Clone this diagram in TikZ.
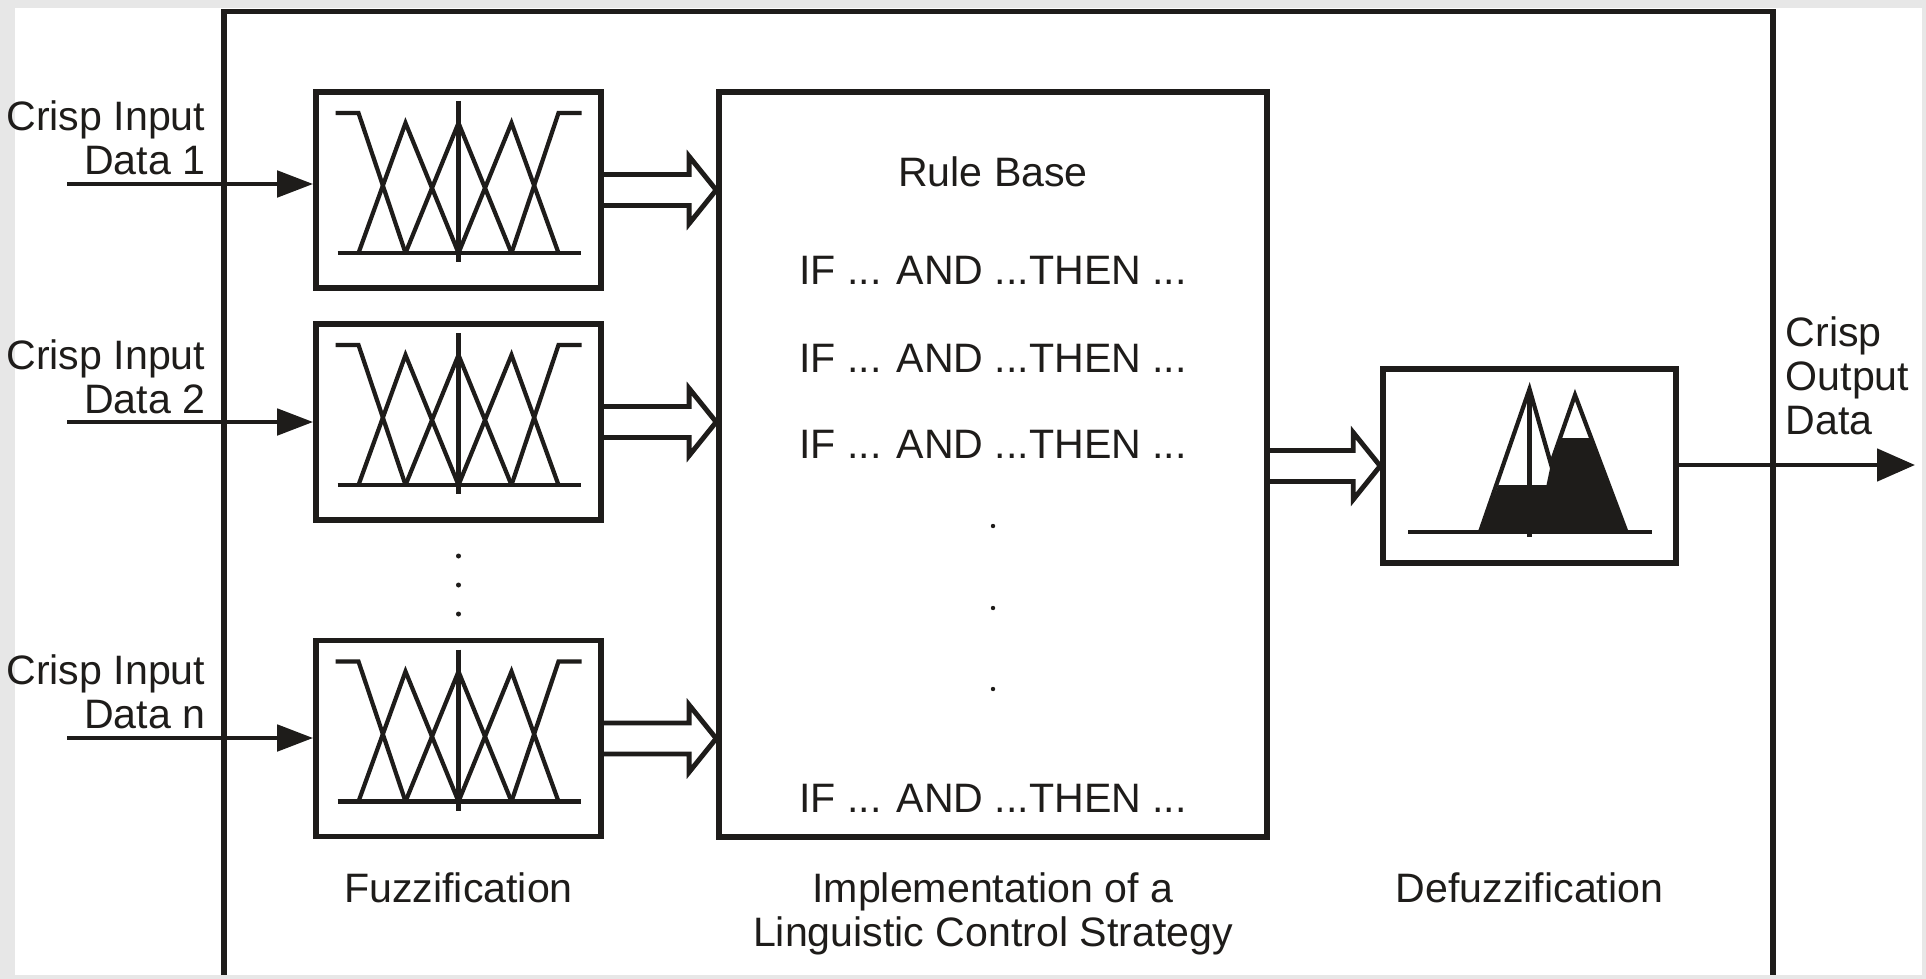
\documentclass[tikz,border=0pt]{standalone}
\usepackage{fontspec}
\setmainfont{Liberation Sans}
\usepackage{xcolor}
\usetikzlibrary{arrows.meta, positioning, calc}

\definecolor{ink}{RGB}{30,28,26}
\definecolor{bggray}{RGB}{231,231,231}

% hollow block arrow from #1 to the tip #2
\newcommand{\fatarrow}[2]{%
  \draw[fat arrow] ($(#1)+(0,0.155)$) -- ($(#2)+(-0.27,0.155)$) -- ++(0,0.18) -- (#2)
    -- ($(#2)+(-0.27,-0.335)$) -- ++(0,0.18) -- ($(#1)+(0,-0.155)$);}

% membership functions inside a fuzzification box
\newcommand{\mfsets}[1]{%
  \begin{scope}[shift={(#1)}]
    \draw[curve] (-1.21,-0.63) -- (1.22,-0.63);
    \draw[curve] (-1.23,0.77) -- (-1.0,0.77) -- (-0.53,-0.63);
    \draw[curve] (1.23,0.77) -- (1.0,0.77) -- (0.53,-0.63);
    \draw[curve] (-1.0,-0.63) -- (-0.53,0.67) -- (0,-0.63);
    \draw[curve] (-0.53,-0.63) -- (0,0.67) -- (0.53,-0.63);
    \draw[curve] (0,-0.63) -- (0.53,0.67) -- (1.0,-0.63);
    \draw[curve] (0,0.89) -- (0,-0.72);
  \end{scope}}

\begin{document}
\begin{tikzpicture}[
    >=Stealth,
    fuzzbox/.style={draw=ink, line width=1.6pt, minimum width=2.85cm, minimum height=1.96cm, inner sep=0pt},
    rulebox/.style={fuzzbox, minimum width=5.48cm, minimum height=7.45cm},
    defbox/.style={fuzzbox, minimum width=2.93cm, minimum height=1.94cm},
    frame/.style={draw=ink, line width=1.6pt},
    curve/.style={draw=ink, line width=1.2pt, line join=miter},
    in arrow/.style={draw=ink, line width=1.4pt, -{Triangle[length=0.36cm, width=0.26cm]}},
    out arrow/.style={draw=ink, line width=1.4pt, -{Triangle[length=0.38cm, width=0.32cm]}},
    fat arrow/.style={draw=ink, line width=1.4pt, line join=miter},
    txt/.style={font=\fontsize{11.7}{12.6}\selectfont, text=ink, inner sep=0pt}
]
    \useasboundingbox (0,0) rectangle (19.26,-9.79);

    % ==================== BACKGROUND ====================
    \fill[bggray] (0,0) rectangle (19.26,-9.79);
    \fill[white] (0.15,-0.08) rectangle (19.215,-9.75);
    \draw[frame] (2.24,-9.75) -- (2.24,-0.115) -- (17.73,-0.115) -- (17.73,-9.75);

    % ==================== BLOCKS ====================
    \node[fuzzbox] (f1) at (4.585,-1.90) {};
    \node[fuzzbox] (f2) at (4.585,-4.22) {};
    \node[fuzzbox] (fn) at (4.585,-7.385) {};
    \node[rulebox] (rules) at (9.93,-4.645) {};
    \node[defbox] (defuzz) at (15.295,-4.66) {};

    \mfsets{f1.center}
    \mfsets{f2.center}
    \mfsets{fn.center}

    % dots between the fuzzification blocks
    \foreach \yy in {5.56,5.85,6.14}
        \fill[ink] (f2.south |- 0,-\yy) circle (0.025);

    % ==================== INPUTS ====================
    \coordinate (s1) at (0.67,-1.84);
    \coordinate (s2) at (0.67,-4.22);
    \coordinate (sn) at (0.67,-7.38);
    \draw[in arrow] (s1) -- (s1 -| f1.west);
    \draw[in arrow] (s2) -- (s2 -| f2.west);
    \draw[in arrow] (sn) -- (sn -| fn.west);
    \node[txt, align=right, anchor=south east] (l1) at (2.06,-1.76) {Crisp Input\\Data 1};
    \node[txt, align=right, anchor=south east] (l2) at (2.06,-4.15) {Crisp Input\\Data 2};
    \node[txt, align=right, anchor=south east] (ln) at (2.06,-7.30) {Crisp Input\\Data n};

    % ==================== BLOCK ARROWS ====================
    \coordinate (t1) at (f1.east -| rules.west);
    \coordinate (t2) at (f2.east -| rules.west);
    \coordinate (tn) at (fn.east -| rules.west);
    \coordinate (r4) at (rules.east |- defuzz.west);
    \fatarrow{f1.east}{t1}
    \fatarrow{f2.east}{t2}
    \fatarrow{fn.east}{tn}
    \fatarrow{r4}{defuzz.west}

    % ==================== RULE BASE ====================
    \node[txt, anchor=base] (rb) at (rules.north |- 0,-1.87) {Rule Base};
    \foreach \yy/\nm in {2.84/if1, 3.72/if2, 4.58/if3, 8.12/ifn}
        \node[txt, anchor=base] (\nm) at (rules.north |- 0,-\yy) {IF ... AND ...THEN ...};
    \foreach \yy in {5.26,6.08,6.89}
        \fill[ink] (rules.north |- 0,-\yy) circle (0.022);

    % ==================== DEFUZZIFICATION ====================
    \begin{scope}[shift={(defuzz.center)}]
        \fill[ink] (-0.495,-0.66) -- (-0.31,-0.19) -- (0.17,-0.19) -- (0.214,0.02)
            -- (0.305,0.28) -- (0.605,0.28) -- (0.97,-0.66) -- cycle;
        \draw[curve] (-0.495,-0.66) -- (0,0.77) -- (0.214,0.02) -- (0.455,0.71) -- (0.97,-0.66);
        \draw[curve] (0,0.77) -- (0,-0.71);
        \draw[curve] (-1.215,-0.66) -- (1.225,-0.66);
    \end{scope}

    % ==================== OUTPUT ====================
    \coordinate (out) at (19.15,-4.65);
    \draw[out arrow] (defuzz.east |- out) -- (out);
    \node[txt, align=left, anchor=south west] (lout) at (17.85,-4.36) {Crisp\\Output\\Data};

    % ==================== STAGE LABELS ====================
    \node[txt, anchor=north] (lfuzz) at (fn.south |- 0,-8.72) {Fuzzification};
    \node[txt, anchor=north, align=center] (lrule) at (rules.south |- 0,-8.72) {Implementation of a\\Linguistic Control Strategy};
    \node[txt, anchor=north] (ldefuzz) at (defuzz.south |- 0,-8.72) {Defuzzification};
\end{tikzpicture}
\end{document}
